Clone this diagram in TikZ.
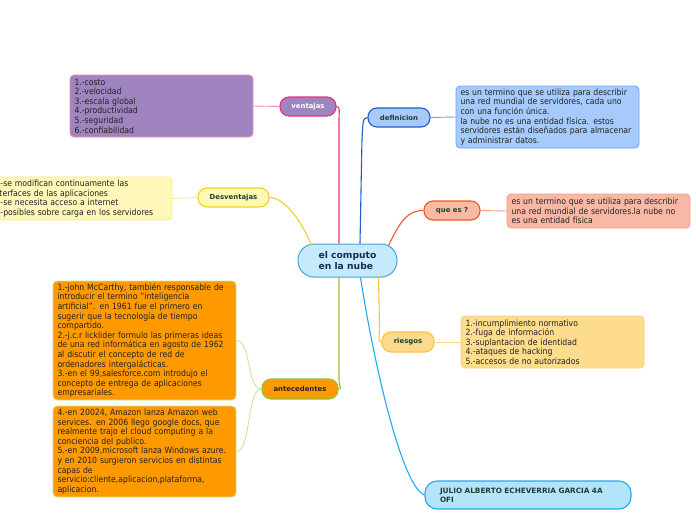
\documentclass[tikz,border=0pt]{standalone}
\usepackage{fontspec}
\setmainfont{DejaVu Sans Condensed}
\newfontfamily\topicfont{DejaVu Sans}
\definecolor{cenfill}{HTML}{C6EAFB}
\definecolor{cenline}{HTML}{4A9FDC}
\definecolor{centext}{HTML}{152D57}
\definecolor{toptext}{HTML}{1D3F33}
\definecolor{boxtext}{HTML}{222222}
\definecolor{pinkl}{HTML}{EA2F7C}
\definecolor{pinkbox}{HTML}{F28CB8}
\definecolor{purp}{HTML}{A084C0}
\definecolor{defline}{HTML}{1F5FCC}
\definecolor{deffill}{HTML}{A9C9F9}
\definecolor{dboxfill}{HTML}{A6CAFB}
\definecolor{dboxline}{HTML}{6AA5F2}
\definecolor{qline}{HTML}{F0582B}
\definecolor{qfill}{HTML}{F9B9A2}
\definecolor{qboxfill}{HTML}{F9B8A5}
\definecolor{qboxline}{HTML}{F59C88}
\definecolor{yline}{HTML}{EDD228}
\definecolor{yfill}{HTML}{FFF8B4}
\definecolor{yboxfill}{HTML}{FFF8B8}
\definecolor{yboxline}{HTML}{F9EC8E}
\definecolor{rline}{HTML}{F8C443}
\definecolor{rfill}{HTML}{FDD98B}
\definecolor{rboxfill}{HTML}{FEDC8D}
\definecolor{rboxline}{HTML}{FBD27A}
\definecolor{orng}{HTML}{FF9900}
\definecolor{gline}{HTML}{92C43A}
\definecolor{gboxline}{HTML}{CDE59A}
\definecolor{jfill}{HTML}{B2E4FA}
\definecolor{jline}{HTML}{1FAAEF}
\begin{document}
\begin{tikzpicture}[x=1pt,y=-1pt,
  topic/.style={rounded corners=9pt, line width=1.1pt, inner sep=0pt,
    font=\topicfont\bfseries\fontsize{6.9}{8}\selectfont, text=toptext, align=center},
  infobox/.style={rounded corners=4pt, line width=0.8pt, inner xsep=4.5pt, inner ysep=0pt,
    font=\fontsize{8.6}{9.6}\selectfont, text=boxtext, align=left},
  conn/.style={line width=1.1pt},
  thin/.style={line width=0.9pt}]
\fill[white] (0,0) rectangle (696,520);
\useasboundingbox (0,0) rectangle (696,520);

% central
\node[draw=cenline, fill=cenfill, line width=1pt, rounded corners=16pt, minimum width=99pt, minimum height=33pt,
  inner sep=0pt, font=\topicfont\bfseries\fontsize{9.2}{11}\selectfont, text=centext, align=left] (center) at (347.5,260.5) {el computo\\en la nube};

% topics
\node[topic, draw=pinkl, fill=purp, text=white, minimum width=56pt, minimum height=19pt] (ventajas) at (308,106.5) {ventajas};
\node[topic, draw=defline, fill=deffill, minimum width=62pt, minimum height=19pt] (definicion) at (399,117.5) {definicion};
\node[topic, draw=qline, fill=qfill, minimum width=56pt, minimum height=19pt] (quees) at (452,210.5) {que es ?};
\node[topic, draw=yline, fill=yfill, minimum width=71pt, minimum height=19pt] (desv) at (233.5,197.5) {Desventajas};
\node[topic, draw=rline, fill=rfill, minimum width=52pt, minimum height=20pt] (riesgos) at (408,342) {riesgos};
\node[topic, draw=gline, fill=orng, minimum width=76pt, minimum height=20pt, text=black!85] (antecedentes) at (300,389) {antecedentes};
\node[topic, draw=jline, fill=jfill, rounded corners=12pt, minimum width=206pt, minimum height=28pt,
  text width=206pt, align=left, font=\topicfont\bfseries\fontsize{7.3}{9}\selectfont] (julio) at (528,495) {\hspace*{15pt}JULIO ALBERTO ECHEVERRIA GARCIA 4A\\\hspace*{15pt}OFI};

% info boxes
\node[infobox, draw=pinkbox, fill=purp, minimum width=183pt, minimum height=62pt, text width=174pt] (vbox) at (161.5,106)
{1.-costo\\2.-velocidad\\3.-escala global\\4.-productividad\\5.-seguridad\\6.-confiabilidad};
\node[infobox, draw=dboxline, fill=dboxfill, minimum width=183pt, minimum height=62pt, text width=174pt] (dbox) at (547.5,117)
{es un termino que se utiliza para describir\\una red mundial de servidores, cada uno\\con una función única.\\la nube no es una entidad física. estos\\servidores están diseñados para almacenar\\y administrar datos.};
\node[infobox, draw=qboxline, fill=qboxfill, minimum width=183pt, minimum height=34pt, text width=174pt] (qbox) at (598.5,211)
{es un termino que se utiliza para describir\\una red mundial de servidores.la nube no\\es una entidad física};
\node[infobox, draw=yboxline, fill=yboxfill, minimum width=190pt, minimum height=43pt, text width=181pt] (ybox) at (77,198.5)
{\hspace*{14pt}-se modifican continuamente las\\\hspace*{13pt}terfaces de las aplicaciones\\\hspace*{14pt}-se necesita acceso a internet\\\hspace*{14pt}-posibles sobre carga en los servidores};
\node[infobox, draw=rboxline, fill=rboxfill, minimum width=183pt, minimum height=52pt, text width=174pt] (rbox) at (552.5,342)
{1.-incumplimiento normativo\\2.-fuga de información\\3.-suplantacion de identidad\\4.-ataques de hacking\\5.-accesos de no autorizados};
\node[infobox, draw=gboxline, fill=orng, minimum width=183pt, minimum height=119pt, text width=174pt] (abox1) at (144.5,340.5)
{1.-john McCarthy, también responsable de\\introducir el termino "inteligencia\\artificial". en 1961 fue el primero en\\sugerir que la tecnología de tiempo\\compartido.\\2.-j.c.r licklider formulo las primeras ideas\\de una red informática en agosto de 1962\\al discutir el concepto de red de\\ordenadores intergalácticas.\\3.-en el 99,salesforce.com introdujo el\\concepto de entrega de aplicaciones\\empresariales.};
\node[infobox, draw=gboxline, fill=orng, minimum width=183pt, minimum height=91pt, text width=174pt] (abox2) at (144.5,451.5)
{4.-en 20024, Amazon lanza Amazon web\\services. en 2006 llego google docs, que\\realmente trajo el cloud computing a la\\conciencia del publico.\\5.-en 2009,microsoft lanza Windows azure.\\y en 2010 surgieron servicios en distintas\\capas de\\servicio:cliente,aplicacion,plataforma,\\aplicacion.};

% main connectors
\draw[conn, pinkl] ([xshift=-8.5pt]center.north) -- ++(0,-124) .. controls +(0,-8) and +(4,0) .. (ventajas.east);
\draw[conn, defline] ([xshift=12.5pt]center.north) -- ++(2,-105) .. controls +(1,-15) and +(-5,0) .. (definicion.west);
\draw[conn, qline] ([xshift=41pt,yshift=-2pt]center.north) .. controls +(10,-20) and +(-18,0) .. (quees.west);
\draw[conn, yline] ([xshift=-36pt,yshift=-2pt]center.north) .. controls +(-10,-25) and +(15,0) .. (desv.east);
\draw[conn, rline] ([xshift=31pt]center.south) -- ++(1,48) .. controls +(0,12) and +(-4,0) .. (riesgos.west);
\draw[conn, gline] ([xshift=-8.5pt]center.south) -- ++(0,102) .. controls +(0,8) and +(4,0) .. (antecedentes.east);
\draw[conn, jline] ([xshift=13pt]center.south) .. controls +(14,90) and +(-22,-8) .. (julio.west);

% sub connectors
\draw[thin, pinkbox] (ventajas.west) -- (vbox.east);
\draw[thin, dboxline] (definicion.east) -- (dbox.west);
\draw[thin, qboxline] (quees.east) -- (qbox.west);
\draw[thin, yboxline] (desv.west) -- (ybox.east);
\draw[thin, rboxline] (riesgos.east) -- (rbox.west);
\draw[thin, gboxline] (antecedentes.west) .. controls +(-15,0) and +(15,0) .. (abox1.east);
\draw[thin, gboxline] (antecedentes.west) .. controls +(-15,0) and +(15,0) .. (abox2.east);
\end{tikzpicture}
\end{document}
